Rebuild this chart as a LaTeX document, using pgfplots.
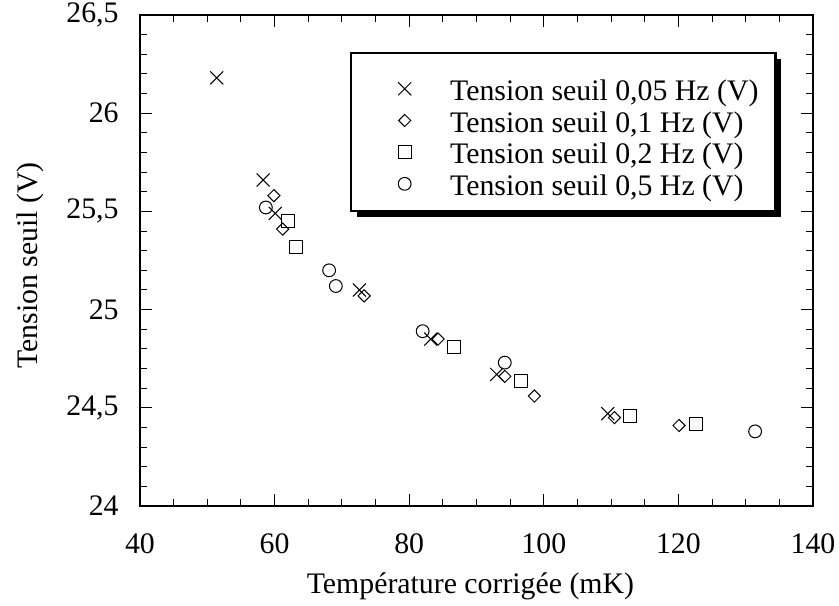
\documentclass[border=0pt]{standalone}
\usepackage{fontspec}
\setmainfont{Liberation Serif}
\usepackage{pgfplots}
\pgfplotsset{compat=1.18}
\usetikzlibrary{shadows}

% struts for the legend rows (first row has extra room above)
\newcommand{\lst}{\rule[-4.4pt]{0pt}{16.1pt}}
\newcommand{\lsttop}{\rule[-4.4pt]{0pt}{22.6pt}}

\begin{document}
\fontsize{14.9}{17.9}\selectfont
\begin{tikzpicture}
\begin{axis}[
    scale only axis,
    width=336.5pt, height=245.5pt,
    xmin=40, xmax=140, ymin=24, ymax=26.5,
    xtick={40,60,...,140},
    ytick={24,24.5,...,26.5},
    minor x tick num=3, minor y tick num=4,
    tick align=inside,
    major tick length=6pt, minor tick length=3.5pt,
    axis line style={line width=0.6pt},
    every tick/.style={black, line width=0.5pt},
    /pgf/number format/use comma,
    /pgf/number format/1000 sep={},
    /pgf/number format/assume math mode=true,
    tick label style={font=\fontsize{14.9}{17.9}\selectfont},
    xticklabel style={anchor=base, yshift=-23.5pt},
    yticklabel style={anchor=east, inner xsep=0pt, xshift=-10.5pt},
    label style={font=\fontsize{14.9}{17.9}\selectfont},
    xlabel={Température corrigée (mK)},
    ylabel={Tension seuil (V)},
    every axis x label/.style={at={([yshift=-43.5pt]axis description cs:0.491,0)}, anchor=base},
    every axis y label/.style={at={([xshift=-51pt]axis description cs:0,0.49)}, rotate=90, anchor=base},
    legend cell align=left,
    legend style={at={(0.312,0.925)}, anchor=north west,
        draw=black, line width=1.2pt, fill=white,
        inner xsep=8.5pt, inner ysep=5.5pt, row sep=1.9pt, column sep=0pt,
        font=\fontsize{14.9}{17.9}\selectfont,
        cells={anchor=base west}, nodes={inner sep=0pt},
        general shadow={fill=black, shadow xshift=3pt, shadow yshift=-3pt}},
    legend image code/.code={
        \path (-18pt,0pt) (22.5pt,0pt);
        \draw[line width=0.5pt,#1] plot coordinates {(0pt,5.8pt)};
    },
]
\coordinate (bbsw) at (rel axis cs:0,0);

\addplot[only marks, mark=x, mark size=4.6pt, line width=0.5pt] table {
x y
51.4 26.18
58.3 25.66
60.1 25.49
72.6 25.10
83.2 24.85
93.0 24.67
109.5 24.47
};
\addlegendentry{\lsttop Tension seuil 0,05 Hz (V)}

\addplot[only marks, mark=square, mark size=2.15pt, mark options={rotate=45}, line width=0.5pt] table {
x y
59.9 25.58
61.2 25.41
73.3 25.07
84.3 24.85
94.2 24.66
98.6 24.56
110.5 24.45
120.1 24.41
};
\addlegendentry{\lst Tension seuil 0,1 Hz (V)}

\addplot[only marks, mark=square, mark size=3.25pt, line width=0.5pt] table {
x y
62.0 25.45
63.2 25.32
86.7 24.81
96.6 24.635
112.8 24.46
122.6 24.415
};
\addlegendentry{\lst Tension seuil 0,2 Hz (V)}

\addplot[only marks, mark=o, mark size=3.2pt, line width=0.5pt] table {
x y
58.7 25.52
68.1 25.20
69.1 25.12
82.0 24.89
94.2 24.73
131.4 24.38
};
\addlegendentry{\lst Tension seuil 0,5 Hz (V)}
\end{axis}
\pgfresetboundingbox
\path[use as bounding box] ([shift={(-70pt,-49.5pt)}]bbsw) rectangle ([shift={(349.5pt,253pt)}]bbsw);
\end{tikzpicture}
\end{document}
